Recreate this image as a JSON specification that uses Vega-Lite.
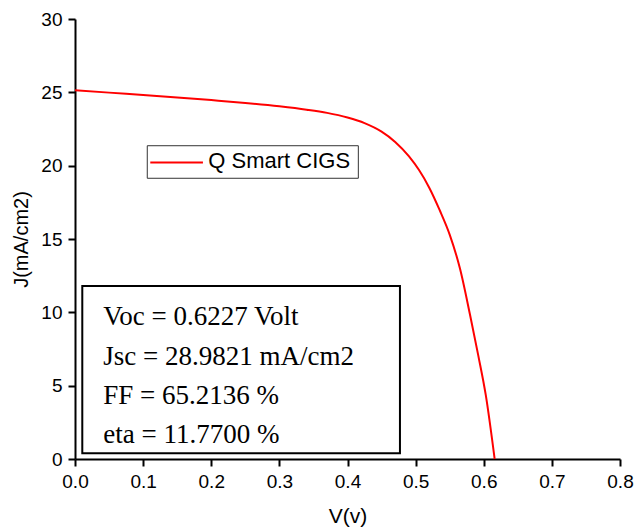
{
  "$schema": "https://vega.github.io/schema/vega-lite/v6.json",
  "width": 545,
  "height": 440,
  "autosize": {"type": "none"},
  "padding": {"left": 75, "top": 19, "right": 15, "bottom": 73},
  "background": "white",
  "config": {
    "view": {"stroke": null},
    "axis": {
      "domainColor": "black",
      "domainWidth": 2,
      "tickColor": "black",
      "tickWidth": 2,
      "labelColor": "black",
      "labelFont": "Liberation Sans",
      "labelFontSize": 19,
      "titleColor": "black",
      "titleFont": "Liberation Sans",
      "titleFontWeight": "normal",
      "grid": false,
      "labelOverlap": false,
      "labelFlush": false
    }
  },
  "datasets": {
    "jv": [
      {"V": 0.000, "J": 25.15},
      {"V": 0.050, "J": 24.98},
      {"V": 0.100, "J": 24.82},
      {"V": 0.150, "J": 24.65},
      {"V": 0.200, "J": 24.47},
      {"V": 0.250, "J": 24.28},
      {"V": 0.300, "J": 24.05},
      {"V": 0.340, "J": 23.82},
      {"V": 0.370, "J": 23.60},
      {"V": 0.400, "J": 23.28},
      {"V": 0.425, "J": 22.90},
      {"V": 0.450, "J": 22.32},
      {"V": 0.470, "J": 21.62},
      {"V": 0.490, "J": 20.65},
      {"V": 0.505, "J": 19.70},
      {"V": 0.520, "J": 18.50},
      {"V": 0.535, "J": 17.00},
      {"V": 0.550, "J": 15.30},
      {"V": 0.565, "J": 13.00},
      {"V": 0.580, "J": 9.80},
      {"V": 0.592, "J": 7.05},
      {"V": 0.603, "J": 4.35},
      {"V": 0.616, "J": 0.00}
    ],
    "legendBox": [{"x0": 0.1061, "x1": 0.4159, "y0": 19.14, "y1": 21.36}],
    "legendItem": [{"x0": 0.1105, "x1": 0.1878, "y": 20.22, "tx": 0.1957, "ty": 19.82, "label": "Q Smart CIGS"}],
    "statsBox": [{"x0": 0.0107, "x1": 0.477, "y0": 0.39, "y1": 11.80}],
    "stats": [
      {"x": 0.0415, "y": 9.13, "text": "Voc = 0.6227 Volt"},
      {"x": 0.0415, "y": 6.41, "text": "Jsc = 28.9821 mA/cm2"},
      {"x": 0.0415, "y": 3.73, "text": "FF = 65.2136 %"},
      {"x": 0.0415, "y": 1.07, "text": "eta = 11.7700 %"}
    ]
  },
  "layer": [
    {
      "data": {"name": "jv"},
      "mark": {"type": "line", "color": "#ff0000", "strokeWidth": 2, "interpolate": "monotone"},
      "encoding": {
        "x": {
          "field": "V", "type": "quantitative", "title": "V(v)",
          "scale": {"domain": [0, 0.8], "nice": false, "zero": false},
          "axis": {
            "titleFontSize": 21,
            "titlePadding": 14,
            "values": [0, 0.05, 0.1, 0.15, 0.2, 0.25, 0.3, 0.35, 0.4, 0.45, 0.5, 0.55, 0.6, 0.65, 0.7, 0.75, 0.8],
            "labelExpr": "round(datum.value * 100) % 10 == 0 ? format(datum.value, '.1f') : ''",
            "tickSize": {"condition": {"test": "round(datum.value * 100) % 10 != 0", "value": 4}, "value": 7},
            "labelPadding": 6
          }
        },
        "y": {
          "field": "J", "type": "quantitative", "title": "J(mA/cm2)",
          "scale": {"domain": [0, 30], "nice": false, "zero": false},
          "axis": {
            "titleFontSize": 20,
            "titlePadding": 9,
            "values": [0, 2.5, 5, 7.5, 10, 12.5, 15, 17.5, 20, 22.5, 25, 27.5, 30],
            "labelExpr": "datum.value % 5 == 0 ? format(datum.value, 'd') : ''",
            "tickSize": {"condition": {"test": "datum.value % 5 != 0", "value": 4}, "value": 7},
            "labelPadding": 6
          }
        }
      }
    },
    {
      "data": {"name": "legendBox"},
      "mark": {"type": "rect", "fill": "white", "stroke": "#333333", "strokeWidth": 1},
      "encoding": {
        "x": {"field": "x0", "type": "quantitative", "title": "V(v)"},
        "x2": {"field": "x1"},
        "y": {"field": "y0", "type": "quantitative", "title": "J(mA/cm2)"},
        "y2": {"field": "y1"}
      }
    },
    {
      "data": {"name": "legendItem"},
      "mark": {"type": "rule", "color": "#ff0000", "strokeWidth": 2},
      "encoding": {
        "x": {"field": "x0", "type": "quantitative", "title": "V(v)"},
        "x2": {"field": "x1"},
        "y": {"field": "y", "type": "quantitative", "title": "J(mA/cm2)"}
      }
    },
    {
      "data": {"name": "legendItem"},
      "mark": {"type": "text", "font": "Liberation Sans", "fontSize": 22, "align": "left", "baseline": "alphabetic", "color": "black"},
      "encoding": {
        "x": {"field": "tx", "type": "quantitative", "title": "V(v)"},
        "y": {"field": "ty", "type": "quantitative", "title": "J(mA/cm2)"},
        "text": {"field": "label"}
      }
    },
    {
      "data": {"name": "statsBox"},
      "mark": {"type": "rect", "fill": "white", "stroke": "black", "strokeWidth": 2},
      "encoding": {
        "x": {"field": "x0", "type": "quantitative", "title": "V(v)"},
        "x2": {"field": "x1"},
        "y": {"field": "y0", "type": "quantitative", "title": "J(mA/cm2)"},
        "y2": {"field": "y1"}
      }
    },
    {
      "data": {"name": "stats"},
      "mark": {"type": "text", "font": "Liberation Serif", "fontSize": 27, "align": "left", "baseline": "alphabetic", "color": "black"},
      "encoding": {
        "x": {"field": "x", "type": "quantitative", "title": "V(v)"},
        "y": {"field": "y", "type": "quantitative", "title": "J(mA/cm2)"},
        "text": {"field": "text"}
      }
    }
  ]
}
